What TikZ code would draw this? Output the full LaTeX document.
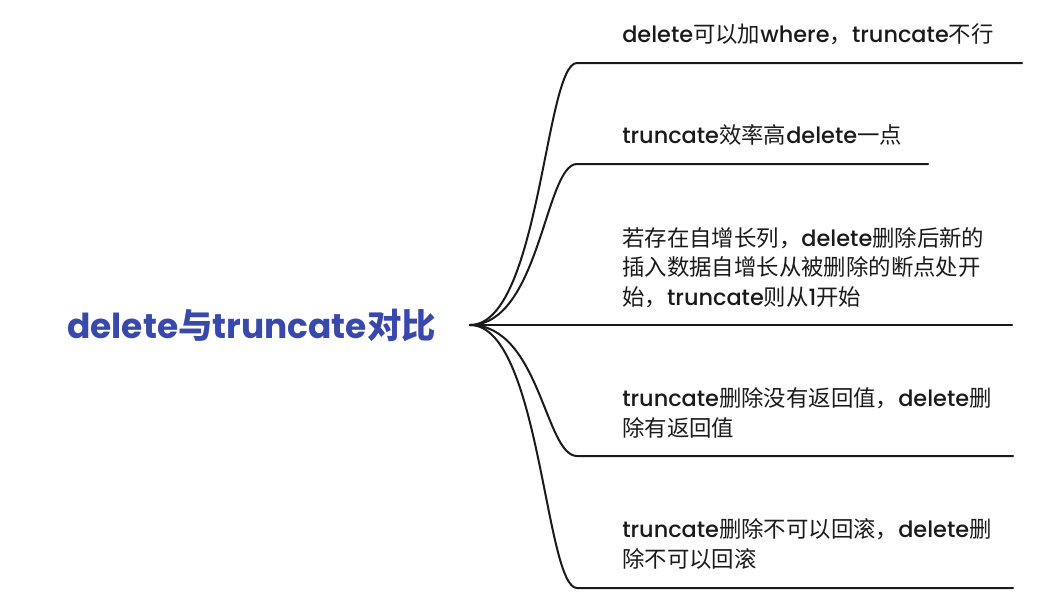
\documentclass[tikz,border=0pt]{standalone}
\usepackage{fontspec}
\setmainfont{Poppins}[UprightFont={* Medium},BoldFont={* Bold}]
\newfontfamily\cjk{Noto Sans CJK SC}
\newcommand\zh[1]{{\cjk #1}}
\definecolor{rootblue}{RGB}{57,72,171}
\definecolor{ink}{RGB}{26,26,26}
\begin{document}
\begin{tikzpicture}[x=0.75pt,y=-0.75pt,
  leaf/.style={anchor=west,inner sep=0pt,align=left,font=\fontsize{16.8}{22.2}\selectfont,text=ink},
  rootnode/.style={anchor=west,inner sep=0pt,font=\fontsize{25.8}{30}\selectfont\bfseries,text=rootblue},
  branch/.style={draw=ink,line width=1.5pt,line cap=round}]
\useasboundingbox (0,0) rectangle (1044,611);
\node[rootnode] (root) at (67,325) {delete\zh{与}truncate\zh{对比}};
\coordinate (hub) at (470,325);
\node[leaf] (t1) at (622,34) {delete\zh{可以加}where\zh{，}truncate\zh{不行}};
\node[leaf] (t2) at (622,135) {truncate\zh{效率高}delete\zh{一点}};
\node[leaf] (t3) at (622,267.5) {\zh{若存在自增长列，}delete\zh{删除后新的}\\\zh{插入数据自增长从被删除的断点处开}\\\zh{始，}truncate\zh{则从}1\zh{开始}};
\node[leaf] (t4) at (622,413) {truncate\zh{删除没有返回值，}delete\zh{删}\\\zh{除有返回值}};
\node[leaf] (t5) at (622,544) {truncate\zh{删除不可以回滚，}delete\zh{删}\\\zh{除不可以回滚}};
\coordinate (a1) at (577,63);  \coordinate (b1) at (1022,63);
\coordinate (a2) at (577,164); \coordinate (b2) at (928,164);
\coordinate (a3) at (577,325); \coordinate (b3) at (1012,325);
\coordinate (a4) at (577,456); \coordinate (b4) at (1013,456);
\coordinate (a5) at (577,588); \coordinate (b5) at (1013,588);
\draw[branch] (hub) .. controls (540,325) and (545,63) .. (a1) -- (b1);
\draw[branch] (hub) .. controls (540,325) and (545,164) .. (a2) -- (b2);
\draw[branch] (hub) -- (a3) -- (b3);
\draw[branch] (hub) .. controls (540,325) and (545,456) .. (a4) -- (b4);
\draw[branch] (hub) .. controls (540,325) and (545,588) .. (a5) -- (b5);
\end{tikzpicture}
\end{document}
